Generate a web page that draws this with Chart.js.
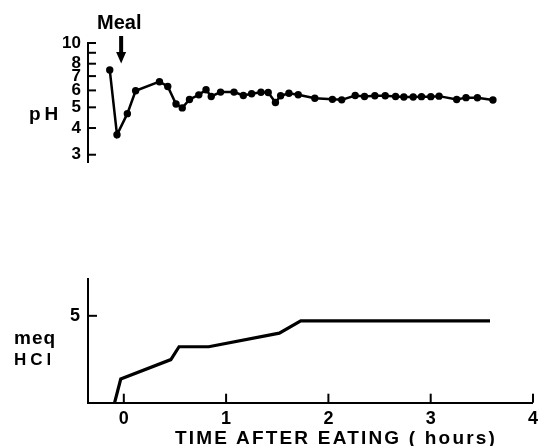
<!DOCTYPE html>
<html>
<head>
<meta charset="utf-8">
<script src="https://cdn.jsdelivr.net/npm/chart.js"></script>
<style>
body { margin: 0; background: #fff; }
#wrap { position: relative; width: 544px; height: 446px; overflow: hidden; font-family: "Liberation Sans", Arial, sans-serif; font-weight: bold; color: #000; }
#wrap canvas { position: absolute; left: 0; }
.lbl { position: absolute; white-space: nowrap; line-height: 1; }
</style>
</head>
<body>
<div id="wrap">
  <canvas id="phChart" width="544" height="180" style="top:0"></canvas>
  <canvas id="hclChart" width="544" height="186" style="top:260px"></canvas>
  <div class="lbl" style="left:97px;top:12px;font-size:20px">Meal</div>
  <div class="lbl" style="left:29px;top:104px;font-size:19px;letter-spacing:4px">pH</div>
  <div class="lbl" style="left:14px;top:328px;font-size:19px;letter-spacing:1px">meq</div>
  <div class="lbl" style="left:14px;top:351px;font-size:17px;letter-spacing:4px">HCl</div>
  <div class="lbl" style="left:175px;top:428px;font-size:19px;letter-spacing:2.2px">TIME AFTER EATING ( hours)</div>
</div>
<script>
// time after eating (hours) and pH of each sample
const phHours = [-0.14, -0.07, 0.03, 0.11, 0.34, 0.42, 0.50, 0.56, 0.63, 0.72, 0.79, 0.84, 0.93, 1.06, 1.15, 1.23, 1.32, 1.39, 1.46, 1.51, 1.59, 1.68, 1.84, 2.01, 2.10, 2.23, 2.32, 2.42, 2.52, 2.62, 2.70, 2.79, 2.87, 2.96, 3.04, 3.21, 3.30, 3.41, 3.56];
const phValues = [7.48, 3.72, 4.67, 5.98, 6.59, 6.26, 5.18, 4.97, 5.44, 5.72, 6.04, 5.62, 5.89, 5.89, 5.68, 5.79, 5.88, 5.87, 5.27, 5.66, 5.82, 5.73, 5.51, 5.45, 5.42, 5.68, 5.62, 5.66, 5.66, 5.62, 5.59, 5.59, 5.61, 5.61, 5.64, 5.44, 5.55, 5.54, 5.41];

// cumulative acid output
const hclHours = [-0.09, -0.03, 0.46, 0.54, 0.83, 1.52, 1.73, 3.58];
const hclValues = [0, 1.36, 2.48, 3.22, 3.22, 4.0, 4.71, 4.71];

const phTicks = [3, 4, 5, 6, 7, 8, 9, 10];
const phTickLabels = ['3', '4', '5', '6', '7', '8', '', '10'];
const hourTicks = [0, 1, 2, 3, 4];
const hclTicks = [5];
const mealHour = -0.03;

const FONT = '"Liberation Sans", Arial, sans-serif';

// tick marks pointing into the plot, plus the meal arrow
const innerTicks = {
    id: 'innerTicks',
    afterDraw(chart, args, opts) {
        const ctx = chart.ctx;
        const {left, bottom} = chart.chartArea;
        ctx.save();
        ctx.strokeStyle = '#000';
        ctx.fillStyle = '#000';
        ctx.lineWidth = 2;
        (opts.y || []).forEach(v => {
            const y = chart.scales.y.getPixelForValue(v);
            ctx.beginPath(); ctx.moveTo(left, y); ctx.lineTo(left + opts.len, y); ctx.stroke();
        });
        (opts.x || []).forEach(v => {
            const x = chart.scales.x.getPixelForValue(v);
            ctx.beginPath(); ctx.moveTo(x, bottom); ctx.lineTo(x, bottom - opts.len); ctx.stroke();
        });
        if (opts.arrow !== undefined) {
            const x = chart.scales.x.getPixelForValue(opts.arrow);
            ctx.fillRect(x - 2, 36, 4, 17);
            ctx.beginPath();
            ctx.moveTo(x - 5, 52); ctx.lineTo(x + 5, 52); ctx.lineTo(x, 63.5);
            ctx.closePath(); ctx.fill();
        }
        ctx.restore();
    }
};

function fixedWidth(w) { return s => { s.width = w; }; }

new Chart(document.getElementById('phChart'), {
    type: 'scatter',
    data: {
        datasets: [{
            data: phHours.map((x, i) => ({x: x, y: phValues[i]})),
            showLine: true,
            borderColor: '#000',
            borderWidth: 2.5,
            pointRadius: 3.7,
            pointBackgroundColor: '#000',
            pointBorderWidth: 0
        }]
    },
    options: {
        responsive: false,
        animation: false,
        layout: { padding: { top: 43, right: 5.5, bottom: 9.6, left: 0 } },
        plugins: {
            legend: { display: false },
            tooltip: { enabled: false },
            innerTicks: { y: phTicks, len: 8, arrow: mealHour }
        },
        scales: {
            x: { type: 'linear', min: -0.35, max: 4, display: false },
            y: {
                type: 'logarithmic',
                min: 2.75,
                max: 10,
                afterFit: fixedWidth(88),
                afterBuildTicks: s => { s.ticks = phTicks.map(v => ({value: v})); },
                grid: { display: false, drawTicks: false },
                border: { display: true, color: '#000', width: 2 },
                ticks: {
                    color: '#000',
                    autoSkip: false,
                    padding: 7,
                    font: { family: FONT, size: 17, weight: 'bold' },
                    callback: v => phTickLabels[phTicks.indexOf(v)]
                }
            }
        }
    },
    plugins: [innerTicks]
});

new Chart(document.getElementById('hclChart'), {
    type: 'scatter',
    data: {
        datasets: [{
            data: hclHours.map((x, i) => ({x: x, y: hclValues[i]})),
            showLine: true,
            borderColor: '#000',
            borderWidth: 3.2,
            pointRadius: 0
        }]
    },
    options: {
        responsive: false,
        animation: false,
        layout: { padding: { top: 15, right: 5.5, bottom: 0, left: 0 } },
        plugins: {
            legend: { display: false },
            tooltip: { enabled: false },
            innerTicks: { y: hclTicks, x: hourTicks, len: 9 }
        },
        scales: {
            x: {
                type: 'linear',
                min: -0.35,
                max: 4,
                afterFit: s => { s.height = 43.3; },
                afterBuildTicks: s => { s.ticks = hourTicks.map(v => ({value: v})); },
                grid: { display: false, drawTicks: false },
                border: { display: true, color: '#000', width: 2 },
                ticks: { color: '#000', padding: 6, font: { family: FONT, size: 18, weight: 'bold' } }
            },
            y: {
                min: 0,
                max: 7.13,
                afterFit: fixedWidth(88),
                afterBuildTicks: s => { s.ticks = hclTicks.map(v => ({value: v})); },
                grid: { display: false, drawTicks: false },
                border: { display: true, color: '#000', width: 2 },
                ticks: { color: '#000', padding: 8, font: { family: FONT, size: 18, weight: 'bold' } }
            }
        }
    },
    plugins: [innerTicks]
});
</script>
</body>
</html>
